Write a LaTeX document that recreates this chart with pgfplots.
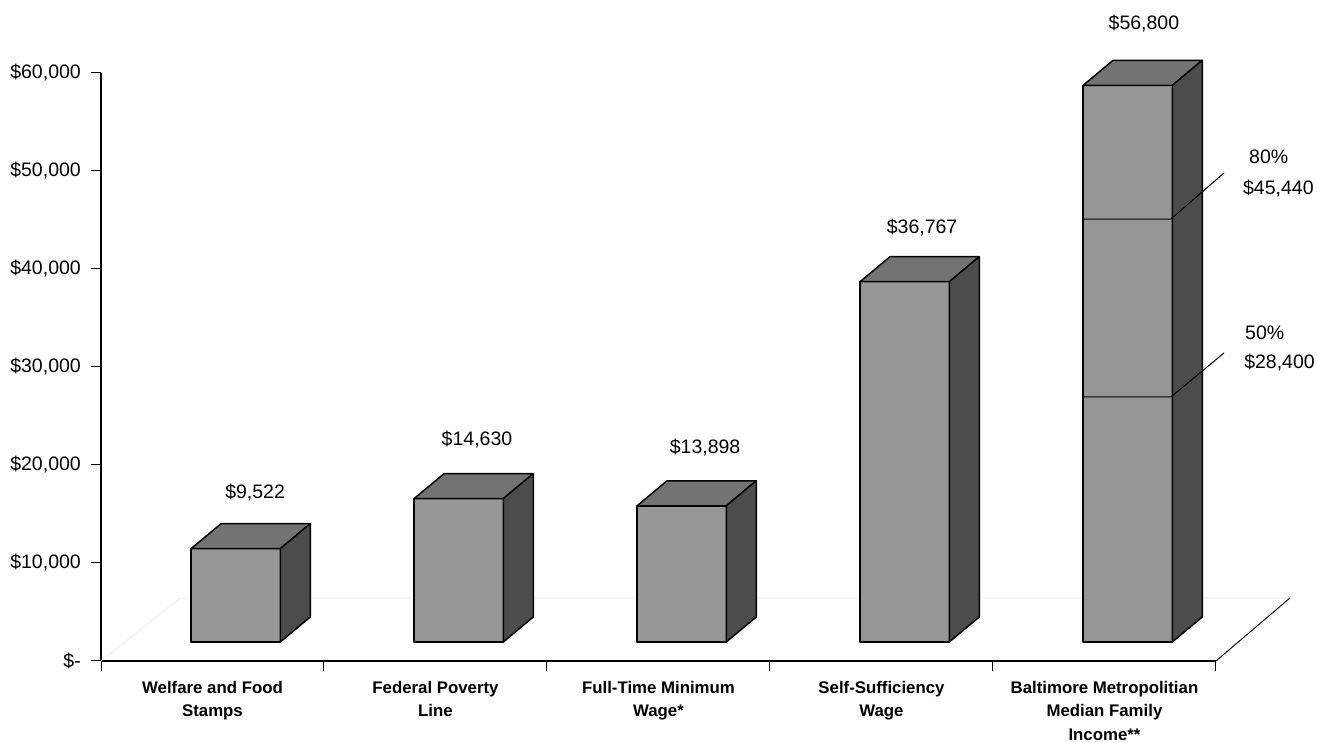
\documentclass[border=0pt]{standalone}
\usepackage{fontspec}
\setmainfont{Liberation Sans}
\usepackage{pgfplots}
\pgfplotsset{compat=1.18}
\definecolor{gfront}{RGB}{150,150,150}
\definecolor{gtop}{RGB}{115,115,115}
\definecolor{gside}{RGB}{76,76,76}
\newcommand\vfont{\fontsize{19.5}{23}\selectfont}
\newcommand\lfont{\fontsize{16.8}{23.5}\selectfont\bfseries}
\pgfplotsset{facestyle/.style={draw=black, line width=1.5pt, line join=round, forget plot}}
% #1 = category index (0-based), #2 = value in dollars
\newcommand\tdbar[2]{%
 \pgfmathsetmacro\xa{#1+0.404}%
 \pgfmathsetmacro\xb{#1+0.804}%
 \pgfmathsetmacro\xc{#1+0.5385}%
 \pgfmathsetmacro\xd{#1+0.9385}%
 \edef\ya{1939}%
 \edef\yb{\the\numexpr1939+#2\relax}%
 \edef\yc{4490}%
 \edef\yd{\the\numexpr4490+#2\relax}%
 \edef\tmp{%
  \noexpand\addplot[facestyle, fill=gfront] coordinates {(\xa,\ya) (\xb,\ya) (\xb,\yb) (\xa,\yb)} -- cycle;
  \noexpand\addplot[facestyle, fill=gtop] coordinates {(\xa,\yb) (\xb,\yb) (\xd,\yd) (\xc,\yd)} -- cycle;
  \noexpand\addplot[facestyle, fill=gside] coordinates {(\xb,\ya) (\xd,\yc) (\xd,\yd) (\xb,\yb)} -- cycle;
 }\tmp}
\begin{document}
\begin{tikzpicture}
\begin{axis}[
  at={(101pt,82pt)}, anchor=south west,
  scale only axis, width=1115pt, height=588pt,
  xmin=0, xmax=5, ymin=0, ymax=60000,
  clip=false, scaled y ticks=false,
  axis x line*=bottom, axis y line*=left,
  axis line style={black, line width=1.2pt, -},
  tick align=outside, major tick length=10pt,
  tick style={black, line width=1pt},
  xtick={0,1,2,3,4,5}, xticklabels={},
  extra x ticks={0.5,1.5,2.5,3.5,4.5},
  extra x tick labels={{Welfare and Food\\Stamps},{Federal Poverty\\Line},{Full-Time Minimum\\Wage*},{Self-Sufficiency\\Wage},{Baltimore Metropolitian\\Median Family\\Income**}},
  extra x tick style={major tick length=0pt, xticklabel style={align=center, font=\lfont, anchor=north, inner sep=0pt, yshift=-20pt}},
  ytick={0,10000,20000,30000,40000,50000,60000},
  yticklabels={\$-,{\$10,000},{\$20,000},{\$30,000},{\$40,000},{\$50,000},{\$60,000}},
  yticklabel style={font=\vfont, anchor=east, inner sep=0pt, xshift=-10pt},
]
% floor
\addplot[black!8, line width=0.8pt, forget plot] coordinates {(0,0) (0.354,6429) (5.332,6429)};
\addplot[black, line width=0.9pt, forget plot] coordinates {(5,0) (5.332,6429)};
% bars
\tdbar{0}{9522}
\tdbar{1}{14630}
\tdbar{2}{13898}
\tdbar{3}{36767}
\tdbar{4}{56800}
% percentage markers on the last bar
\addplot[black, line width=1pt, forget plot] coordinates {(4.404,45100) (4.798,45100) (5.036,49796)};
\addplot[black, line width=1pt, forget plot] coordinates {(4.404,26940) (4.798,26940) (5.036,31429)};
% value labels
\node[font=\vfont] at (axis cs:0.691,17143) {\$9,522};
\node[font=\vfont] at (axis cs:1.686,22551) {\$14,630};
\node[font=\vfont] at (axis cs:2.709,21735) {\$13,898};
\node[font=\vfont] at (axis cs:3.682,44184) {\$36,767};
\node[font=\vfont] at (axis cs:4.677,65000) {\$56,800};
\node[font=\vfont, anchor=west, inner sep=0pt] at (axis cs:5.148,51429) {80\%};
\node[font=\vfont, anchor=west, inner sep=0pt] at (axis cs:5.121,48163) {\$45,440};
\node[font=\vfont, anchor=west, inner sep=0pt] at (axis cs:5.130,33469) {50\%};
\node[font=\vfont, anchor=west, inner sep=0pt] at (axis cs:5.126,30408) {\$28,400};
\end{axis}
\pgfresetboundingbox
\useasboundingbox (0,0) rectangle (1317pt,743pt);
\end{tikzpicture}
\end{document}
